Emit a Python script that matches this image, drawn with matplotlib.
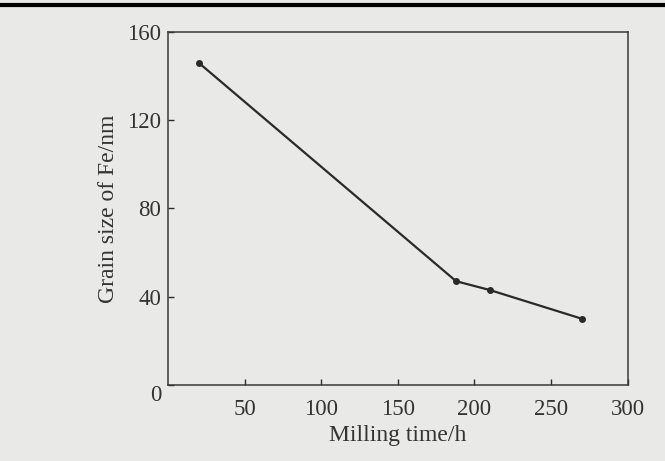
import matplotlib
matplotlib.use("Agg")
from matplotlib import pyplot as plt
from matplotlib.lines import Line2D
import matplotlib.transforms as mtransforms

# milling time (h) vs Fe grain size (nm)
milling_time = [20, 188, 210, 270]
grain_size = [146, 47, 43, 30]

x_ticks = [50, 100, 150, 200, 250, 300]
y_ticks = [0, 40, 80, 120, 160]

plt.rcParams['font.family'] = ['Liberation Serif', 'DejaVu Serif']

bg = '#e9e9e7'
ink = '#2a2a2a'
txt = '#333333'

fig = plt.figure(figsize=(6.65, 4.61), dpi=100, facecolor=bg)
ax = fig.add_axes([0.2526, 0.165, 0.6914, 0.766])
ax.set_facecolor(bg)

ax.plot(milling_time, grain_size, '-o', color=ink, lw=1.6, ms=4)

ax.set_xlim(0, 300)
ax.set_ylim(0, 160)
ax.set_xticks(x_ticks)
ax.set_yticks(y_ticks)
ax.tick_params(direction='in', length=4, width=1, colors=ink,
               labelsize=16.5, labelcolor=txt)
ax.tick_params(axis='x', pad=10)
ax.tick_params(axis='y', pad=5)
for s in ax.spines.values():
    s.set_color('#3a3a3a')
    s.set_linewidth(1.1)

# the corner "0" sits a little lower in the scan
zero = ax.get_yticklabels()[0]
zero.set_transform(zero.get_transform() +
                   mtransforms.ScaledTranslation(0, -8 / 100, fig.dpi_scale_trans))

ax.set_xlabel('Milling time/h', fontsize=17, color=txt, labelpad=4)
ax.set_ylabel('Grain size of Fe/nm', fontsize=17, color=txt, labelpad=6)

# thick black rule along the top edge of the scan
fig.add_artist(Line2D([0, 1], [0.99, 0.99], color='black', lw=3,
                      transform=fig.transFigure))

fig.savefig('out.png', dpi=100, facecolor=bg)
